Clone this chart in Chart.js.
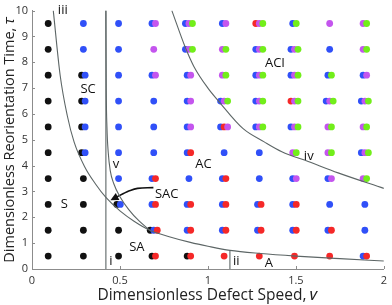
<!DOCTYPE html>
<html>
<head>
<meta charset="utf-8">
<script src="https://cdn.jsdelivr.net/npm/chart.js@4.4.1/dist/chart.umd.min.js"></script>
<style>
  html, body { margin: 0; padding: 0; background: #fff; }
  #wrap { width: 392px; height: 305px; }
</style>
</head>
<body>
<div id="wrap"><canvas id="phaseChart" width="392" height="305"></canvas></div>
<script>
// grid of simulated points
const speeds = [0.1, 0.3, 0.5, 0.7, 0.9, 1.1, 1.3, 1.5, 1.7, 1.9];
const times = [9.5, 8.5, 7.5, 6.5, 5.5, 4.5, 3.5, 2.5, 1.5, 0.5];

// outcome at each point, left to right (K black, B blue, R red, M magenta, G green)
const outcomes = [
  ['K', 'B',  'B',  'BM',  'BMG', 'BM',  'RMG', 'BG',  'M',   'MG'],
  ['K', 'B',  'B',  'M',   'BMG', 'MG',  'BMG', 'BMG', 'B',   'MG'],
  ['K', 'KB', 'B',  'BM',  'BM',  'MG',  'BMG', 'BMG', 'BG',  'BM'],
  ['K', 'KB', 'B',  'B',   'BM',  'BMG', 'BMG', 'RMG', 'BMG', 'BMG'],
  ['K', 'KB', 'B',  'B',   'BM',  'BRM', 'BMG', 'BMG', 'MG',  'MG'],
  ['K', 'KB', 'B',  'B',   'BR',  'B',   'B',   'MG',  'MG',  'BMG'],
  ['K', 'K',  'B',  'BR',  'B',   'BR',  'B',   'BM',  'BM',  'MG'],
  ['K', 'K',  'KB', 'BR',  'BR',  'BR',  'BR',  'BR',  'B',   'B'],
  ['K', 'K',  'K',  'KBR', 'BR',  'BR',  'BR',  'BR',  'BR',  'B'],
  ['K', 'K',  'K',  'KR',  'KR',  'R',   'R',   'R',   'R',   'BR']
];

// boundary lines
const lineI_nu = [0.42, 0.42];
const lineI_tau = [0, 10];
const lineII_nu = [1.125, 1.125];
const lineII_tau = [0, 0.72];
const curveIII_nu = [0.121, 0.16, 0.2, 0.24, 0.3, 0.36, 0.42, 0.5, 0.58, 0.67, 0.78, 0.9, 1.0, 1.125, 1.3, 1.5, 1.75, 2.0];
const curveIII_tau = [10, 7.5, 5.95, 4.9, 3.95, 3.3, 2.77, 2.25, 1.85, 1.5, 1.25, 1.03, 0.88, 0.72, 0.6, 0.5, 0.4, 0.31];
const curveIV_nu = [0.795, 0.87, 0.92, 1.0, 1.06, 1.2, 1.32, 1.42, 1.57, 1.74, 2.0];
const curveIV_tau = [10, 8.6, 7.84, 7.0, 6.5, 5.43, 4.92, 4.54, 4.16, 3.72, 3.12];
const curveV_nu = [0.42, 0.422, 0.426, 0.433, 0.445, 0.465, 0.5, 0.55, 0.61, 0.67];
const curveV_tau = [10, 7, 5.5, 4.54, 3.8, 3.3, 2.8, 2.3, 1.85, 1.5];
const arrow_nu = [0.69, 0.6, 0.55, 0.52, 0.456];
const arrow_tau = [3.15, 3.12, 3.02, 2.92, 2.7];

// region labels
const regionLabels = [
  { text: 'iii', nu: 0.175, tau: 10.0 },
  { text: 'SC', nu: 0.319, tau: 6.94 },
  { text: 'v', nu: 0.477, tau: 4.05 },
  { text: 'S', nu: 0.184, tau: 2.52 },
  { text: 'SAC', nu: 0.766, tau: 2.9 },
  { text: 'SA', nu: 0.596, tau: 0.85 },
  { text: 'i', nu: 0.449, tau: 0.28 },
  { text: 'AC', nu: 0.975, tau: 4.05 },
  { text: 'ACI', nu: 1.381, tau: 7.97 },
  { text: 'iv', nu: 1.573, tau: 4.35 },
  { text: 'ii', nu: 1.161, tau: 0.28 },
  { text: 'A', nu: 1.347, tau: 0.24 }
];

const dotColors = { K: '#111111', B: '#3050f8', R: '#f52828', M: '#c455ee', G: '#72ee1a' };
const dotLayer = { K: 5, B: 4, R: 3, M: 2, G: 1 };
const lineColor = '#5d6666';
const axisColor = '#8c8c8c';

function zip(xs, ys) {
  return xs.map((x, i) => ({ x: x, y: ys[i] }));
}

function buildDots(letter) {
  const pts = [];
  times.forEach((tau, r) => {
    speeds.forEach((nu, c) => {
      const cell = outcomes[r][c];
      const n = cell.length;
      for (let i = 0; i < n; i++) {
        if (cell[i] === letter) {
          pts.push({ x: nu + (i - (n - 1) / 2) * 0.02 - 0.008, y: tau });
        }
      }
    });
  });
  return pts;
}

function lineSet(data, extra) {
  return Object.assign({
    data: data,
    showLine: true,
    pointRadius: 0,
    borderColor: lineColor,
    borderWidth: 1.1,
    order: 0
  }, extra || {});
}

const datasets = [
  lineSet(zip(lineI_nu, lineI_tau)),
  lineSet(zip(lineII_nu, lineII_tau)),
  lineSet(zip(curveIII_nu, curveIII_tau), { cubicInterpolationMode: 'monotone' }),
  lineSet(zip(curveIV_nu, curveIV_tau), { cubicInterpolationMode: 'monotone' }),
  lineSet(zip(curveV_nu, curveV_tau), { cubicInterpolationMode: 'monotone' }),
  lineSet(zip(arrow_nu, arrow_tau), { borderColor: '#111', borderWidth: 1.6, tension: 0.4 })
];

Object.keys(dotColors).forEach(letter => {
  datasets.push({
    data: buildDots(letter),
    pointRadius: 3.4,
    pointHoverRadius: 3.4,
    pointBorderWidth: 0,
    backgroundColor: dotColors[letter],
    borderColor: dotColors[letter],
    order: dotLayer[letter]
  });
});

// tick marks inside the axes, arrow head and region names
const annotations = {
  id: 'annotations',
  afterDatasetsDraw(chart) {
    const { ctx, chartArea, scales: { x, y } } = chart;
    ctx.save();

    ctx.strokeStyle = axisColor;
    ctx.lineWidth = 1;
    x.ticks.forEach(t => {
      const px = Math.round(x.getPixelForValue(t.value)) + 0.5;
      ctx.beginPath();
      ctx.moveTo(px, chartArea.bottom);
      ctx.lineTo(px, chartArea.bottom - 3);
      ctx.stroke();
    });
    y.ticks.forEach(t => {
      const py = Math.round(y.getPixelForValue(t.value)) + 0.5;
      ctx.beginPath();
      ctx.moveTo(chartArea.left, py);
      ctx.lineTo(chartArea.left + 3, py);
      ctx.stroke();
    });

    const n = arrow_nu.length;
    const tipX = x.getPixelForValue(arrow_nu[n - 1]);
    const tipY = y.getPixelForValue(arrow_tau[n - 1]);
    const prevX = x.getPixelForValue(arrow_nu[n - 2]);
    const prevY = y.getPixelForValue(arrow_tau[n - 2]);
    const ang = Math.atan2(tipY - prevY, tipX - prevX);
    ctx.fillStyle = '#111';
    ctx.beginPath();
    ctx.moveTo(tipX + Math.cos(ang) * 2, tipY + Math.sin(ang) * 2);
    ctx.lineTo(tipX - Math.cos(ang) * 6 - Math.sin(ang) * 4, tipY - Math.sin(ang) * 6 + Math.cos(ang) * 4);
    ctx.lineTo(tipX - Math.cos(ang) * 6 + Math.sin(ang) * 4, tipY - Math.sin(ang) * 6 - Math.cos(ang) * 4);
    ctx.closePath();
    ctx.fill();

    ctx.fillStyle = '#111';
    ctx.font = "13px 'Open Sans', sans-serif";
    ctx.textAlign = 'center';
    ctx.textBaseline = 'middle';
    regionLabels.forEach(l => {
      ctx.fillText(l.text, x.getPixelForValue(l.nu), y.getPixelForValue(l.tau));
    });
    ctx.restore();
  }
};

Chart.defaults.font.family = "'Open Sans', sans-serif";

new Chart(document.getElementById('phaseChart'), {
  type: 'scatter',
  data: { datasets: datasets },
  options: {
    responsive: false,
    animation: false,
    devicePixelRatio: 1,
    layout: { padding: { top: 7, right: 5, left: 0, bottom: 0 } },
    plugins: { legend: { display: false }, tooltip: { enabled: false } },
    scales: {
      x: {
        type: 'linear',
        min: 0,
        max: 2,
        ticks: {
          stepSize: 0.5,
          padding: 5,
          color: '#333',
          font: { size: 11 },
          callback: v => String(Number(v))
        },
        grid: { display: false, drawTicks: false },
        border: { display: true, color: axisColor, width: 1 },
        title: {
          display: true,
          text: 'Dimensionless Defect Speed, \u{1D708}',
          color: '#222',
          font: { size: 15.5 },
          padding: { top: 0, bottom: 0 }
        },
        afterFit: axis => { axis.height = 36; }
      },
      y: {
        min: 0,
        max: 10,
        ticks: { stepSize: 1, padding: 4, color: '#333', font: { size: 11 } },
        grid: { display: false, drawTicks: false },
        border: { display: true, color: axisColor, width: 1 },
        title: {
          display: true,
          text: 'Dimensionless Reorientation Time, \u{1D70F}',
          color: '#222',
          font: { size: 14.5 },
          padding: { top: 1, bottom: 0 }
        },
        afterFit: axis => { axis.width = 32; }
      }
    }
  },
  plugins: [annotations]
});
</script>
</body>
</html>
